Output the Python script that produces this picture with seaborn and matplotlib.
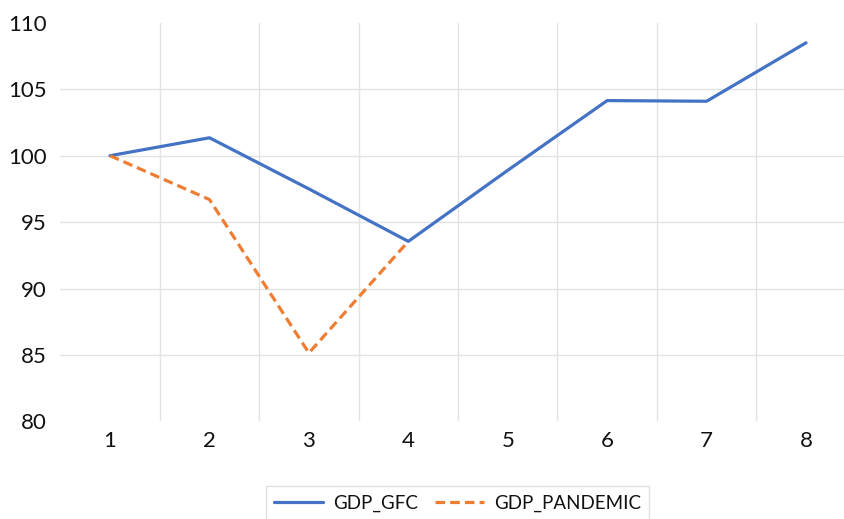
import numpy as np
import pandas as pd
import matplotlib
matplotlib.use("Agg")
import matplotlib.pyplot as plt
import seaborn as sns

# Data
periods = [1, 2, 3, 4, 5, 6, 7, 8]
gdp_gfc = [100.0, 101.35, 97.5, 93.55, 98.9, 104.15, 104.1, 108.5]
gdp_pandemic = [100.0, 96.7, 85.15, 93.55, np.nan, np.nan, np.nan, np.nan]
y_ticks = [80, 85, 90, 95, 100, 105, 110]

df = pd.DataFrame({
    "period": periods * 2,
    "value": gdp_gfc + gdp_pandemic,
    "series": ["GDP_GFC"] * len(periods) + ["GDP_PANDEMIC"] * len(periods),
})

sns.set_style("white")
plt.rcParams["font.family"] = ["Lato", "DejaVu Sans"]

fig = plt.figure(figsize=(8.45, 5.19), dpi=100)
ax = fig.add_axes([0.0714, 0.1882, 0.9413, 0.7677])

sns.lineplot(data=df, x="period", y="value", hue="series", style="series",
             palette={"GDP_GFC": "#4472C4", "GDP_PANDEMIC": "#ED7D31"},
             dashes={"GDP_GFC": "", "GDP_PANDEMIC": (3, 1.6)},
             linewidth=2.3, ax=ax)

ax.set_xlim(0.5, 8.5)
ax.set_ylim(80, 110)
ax.set_xticks(periods)
ax.set_xticklabels([str(p) for p in periods])
ax.set_yticks(y_ticks)
ax.set_xticks(np.arange(1.5, 8.5, 1), minor=True)
ax.grid(False)
ax.grid(which="minor", axis="x", color="#E3E3E3", linewidth=1)
ax.grid(which="major", axis="y", color="#E3E3E3", linewidth=1)
yt = ax.yaxis.get_major_ticks()
yt[0].gridline.set_visible(False)
yt[-1].gridline.set_visible(False)
ax.tick_params(which="both", length=0, labelcolor="#111111")
ax.tick_params(axis="y", labelsize=16, pad=10)
ax.tick_params(axis="x", labelsize=16, pad=7)
ax.set_xlabel("")
ax.set_ylabel("")
for s in ax.spines.values():
    s.set_visible(False)

handles, labels = ax.get_legend_handles_labels()
leg = ax.legend(handles, labels, loc="upper center", bbox_to_anchor=(0.5414, 0.081),
                bbox_transform=fig.transFigure, ncol=2, frameon=True, fancybox=False,
                edgecolor="#D9D9D9", fontsize=13.5, handlelength=2.6, handletextpad=0.55,
                columnspacing=0.9, borderpad=0.45)
for t in leg.get_texts():
    t.set_color("#111111")

fig.savefig("out.png", dpi=100)
